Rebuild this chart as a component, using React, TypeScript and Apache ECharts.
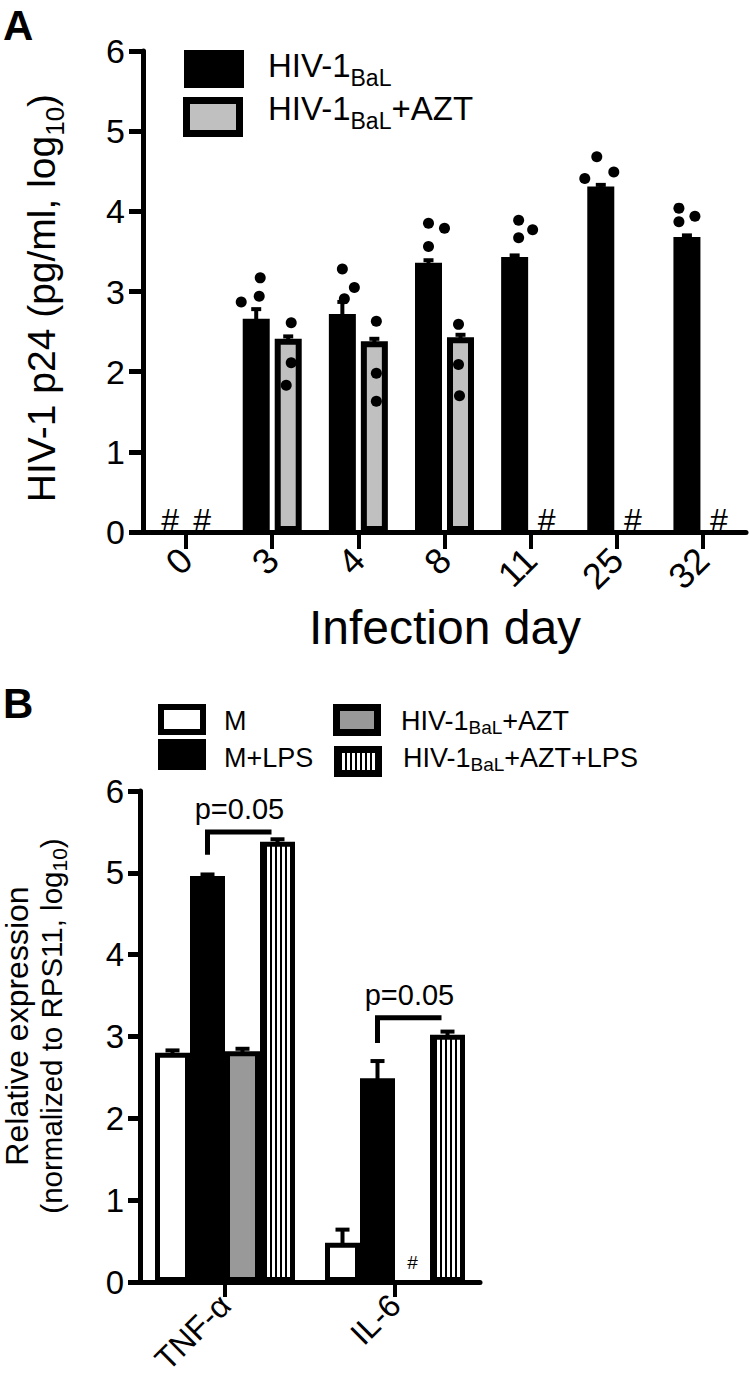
import React, { useEffect, useRef } from 'react';
import * as echarts from 'echarts';

// ---------- Panel A data ----------
const days = ['0', '3', '4', '8', '11', '25', '32'];
const hivBaL = [null, 2.66, 2.72, 3.36, 3.43, 4.31, 3.68];
const hivBaLErrTop = [null, 2.78, 2.87, 3.39, 3.45, 4.33, 3.70];
const hivAzt = [null, 2.41, 2.38, 2.43, null, null, null];
const hivAztErrTop = [null, 2.44, 2.41, 2.46, null, null, null];
const hivBaLDots = [[], [2.87, 3.17, 2.94], [3.28, 3.05, 2.91], [3.85, 3.79, 3.56], [3.89, 3.77, 3.67], [4.68, 4.49, 4.41], [4.04, 3.94, 3.87]];
const hivAztDots = [[], [2.61, 2.11, 1.83], [2.63, 1.98, 1.63], [2.59, 2.09, 1.70], [], [], []];
// horizontal jitter of the donor dots (px)
const hivBaLJitter = [[], [-15, 4, 3], [0, 12, 2], [0, 16, 0], [4, 18, 4], [-4, 13, -16], [-8, 8, -8]];
const hivAztJitter = [[], [3, 3, -2], [2, 2, 2], [-2, -2, -1], [], [], []];
const yTicksA = [0, 6, 1];

// ---------- Panel B data ----------
const genes = ['TNF-α', 'IL-6'];
const mVals = [2.80, 0.48];
const mErrTop = [2.83, 0.64];
const mLps = [4.96, 2.49];
const mLpsErrTop = [4.98, 2.70];
const aztVals = [2.82, null];
const aztErrTop = [2.85, null];
const aztLps = [5.38, 3.02];
const aztLpsErrTop = [5.41, 3.06];
const pTexts = ['p=0.05', 'p=0.05'];
const bracketLevel = [5.50, 3.23];
const bracketFoot = [5.22, 2.92];

const FONT = '"Liberation Sans", Arial, Helvetica, sans-serif';

function makeStripe() {
  const c = document.createElement('canvas');
  c.width = 5;
  c.height = 10;
  const ctx = c.getContext('2d')!;
  ctx.fillStyle = '#fff';
  ctx.fillRect(0, 0, 5, 10);
  ctx.fillStyle = '#000';
  ctx.fillRect(0, 0, 2, 10);
  return { image: c, repeat: 'repeat', imageWidth: 5, imageHeight: 10 } as any;
}

export default function App() {
  const ref = useRef<HTMLDivElement>(null);
  useEffect(() => {
    document.body.style.margin = '0';
    const chart = echarts.init(ref.current!, undefined, { renderer: 'svg' });
    const stripe = makeStripe();

    const barData = (vals: (number | null)[], hashSize: number, hashDist: number) =>
      vals.map((v) =>
        v == null
          ? {
              value: 0,
              itemStyle: { borderWidth: 0 },
              label: { show: true, formatter: '#', position: 'top', distance: hashDist, fontSize: hashSize, color: '#000', fontFamily: FONT },
            }
          : v
      );

    const errSeries = (grid: number, means: (number | null)[], tops: (number | null)[], offset: number, capW: number) => ({
      type: 'custom',
      xAxisIndex: grid,
      yAxisIndex: grid,
      silent: true,
      z: 5,
      data: means.map((m, i) => (m == null ? null : [i, m, tops[i]])).filter((d) => d != null),
      renderItem: (params: any, api: any) => {
        const base = api.coord([api.value(0), api.value(1)]);
        const top = api.coord([api.value(0), api.value(2)]);
        const x = base[0] + offset;
        return {
          type: 'group',
          children: [
            { type: 'line', shape: { x1: x, y1: base[1] + 2, x2: x, y2: top[1] }, style: { stroke: '#000', lineWidth: 4 } },
            { type: 'line', shape: { x1: x - capW / 2, y1: top[1], x2: x + capW / 2, y2: top[1] }, style: { stroke: '#000', lineWidth: 4 } },
          ],
        };
      },
    });

    const dotSeries = (dots: number[][], jitter: number[][], offset: number) => ({
      type: 'scatter',
      xAxisIndex: 0,
      yAxisIndex: 0,
      symbol: 'circle',
      symbolSize: 11,
      z: 6,
      silent: true,
      itemStyle: { color: '#000', opacity: 1 },
      data: dots.flatMap((arr, i) => arr.map((v, k) => ({ value: [i, v], symbolOffset: [offset + jitter[i][k], 0] }))),
    });

    const axisCommon = {
      axisLine: { show: true, onZero: false, lineStyle: { color: '#000', width: 5 } },
      splitLine: { show: false },
    };

    const subRich = (main: number, sub: number, pad: number) => ({
      n: { fontSize: main, fontFamily: FONT, color: '#000', verticalAlign: 'top' },
      s: { fontSize: sub, fontFamily: FONT, color: '#000', verticalAlign: 'top', padding: [pad, 0, 0, 0] },
    });

    const option: any = {
      animation: false,
      backgroundColor: '#fff',
      textStyle: { fontFamily: FONT, color: '#000' },
      grid: [
        { left: 143, top: 51, width: 603, height: 481 },
        { left: 140, top: 791, width: 340, height: 491 },
      ],
      xAxis: [
        {
          gridIndex: 0,
          type: 'category',
          data: days,
          ...axisCommon,
          axisTick: { show: true, alignWithLabel: true, length: 17, lineStyle: { color: '#000', width: 4 } },
          axisLabel: { rotate: 45, fontSize: 36, margin: 22, color: '#000', fontFamily: FONT },
        },
        {
          gridIndex: 1,
          type: 'category',
          data: genes,
          ...axisCommon,
          axisTick: { show: true, alignWithLabel: true, length: 15, lineStyle: { color: '#000', width: 4 } },
          axisLabel: { rotate: 45, fontSize: 32, margin: 18, color: '#000', fontFamily: FONT },
        },
      ],
      yAxis: [
        {
          gridIndex: 0,
          type: 'value',
          min: yTicksA[0],
          max: yTicksA[1],
          interval: yTicksA[2],
          ...axisCommon,
          axisTick: { show: true, length: 14, lineStyle: { color: '#000', width: 5 } },
          axisLabel: { fontSize: 34, margin: 18, color: '#000', fontFamily: FONT },
        },
        {
          gridIndex: 1,
          type: 'value',
          min: 0,
          max: 6,
          interval: 1,
          ...axisCommon,
          axisTick: { show: true, length: 12, lineStyle: { color: '#000', width: 5 } },
          axisLabel: { fontSize: 33, margin: 16, color: '#000', fontFamily: FONT },
        },
      ],
      series: [
        {
          name: 'HIV-1BaL',
          type: 'bar',
          xAxisIndex: 0,
          yAxisIndex: 0,
          barWidth: 27,
          barGap: '18.5%',
          itemStyle: { color: '#000', borderColor: '#000', borderWidth: 6 },
          data: barData(hivBaL, 32, -4),
        },
        {
          name: 'HIV-1BaL+AZT',
          type: 'bar',
          xAxisIndex: 0,
          yAxisIndex: 0,
          barWidth: 27,
          barGap: '18.5%',
          itemStyle: { color: '#c0c0c0', borderColor: '#000', borderWidth: 6 },
          data: barData(hivAzt, 32, -4),
        },
        errSeries(0, hivBaL, hivBaLErrTop, -16, 10),
        errSeries(0, hivAzt, hivAztErrTop, 16, 10),
        dotSeries(hivBaLDots, hivBaLJitter, -16),
        dotSeries(hivAztDots, hivAztJitter, 16),
        {
          name: 'M',
          type: 'bar',
          xAxisIndex: 1,
          yAxisIndex: 1,
          barWidth: 35,
          barGap: '0%',
          itemStyle: { color: '#fff', borderColor: '#000', borderWidth: 5 },
          data: barData(mVals, 19, 10),
        },
        {
          name: 'M+LPS',
          type: 'bar',
          xAxisIndex: 1,
          yAxisIndex: 1,
          barWidth: 35,
          barGap: '0%',
          itemStyle: { color: '#000', borderColor: '#000', borderWidth: 5 },
          data: barData(mLps, 19, 10),
        },
        {
          name: 'HIV-1BaL+AZT (B)',
          type: 'bar',
          xAxisIndex: 1,
          yAxisIndex: 1,
          barWidth: 35,
          barGap: '0%',
          itemStyle: { color: '#999999', borderColor: '#000', borderWidth: 5 },
          data: barData(aztVals, 19, 10),
        },
        {
          name: 'HIV-1BaL+AZT+LPS',
          type: 'bar',
          xAxisIndex: 1,
          yAxisIndex: 1,
          barWidth: 35,
          barGap: '0%',
          itemStyle: { color: stripe, borderColor: '#000', borderWidth: 5 },
          data: barData(aztLps, 19, 10),
        },
        errSeries(1, mVals, mErrTop, -52.5, 14),
        errSeries(1, mLps, mLpsErrTop, -17.5, 14),
        errSeries(1, aztVals, aztErrTop, 17.5, 14),
        errSeries(1, aztLps, aztLpsErrTop, 52.5, 14),
        {
          type: 'custom',
          xAxisIndex: 1,
          yAxisIndex: 1,
          silent: true,
          z: 7,
          data: genes.map((g, i) => [i, bracketLevel[i], bracketFoot[i]]),
          renderItem: (params: any, api: any) => {
            const top = api.coord([api.value(0), api.value(1)]);
            const foot = api.coord([api.value(0), api.value(2)]);
            const x1 = top[0] - 17.5;
            const x2 = top[0] + 52.5 - 6;
            return {
              type: 'group',
              children: [
                {
                  type: 'polyline',
                  shape: { points: [[x1, foot[1]], [x1, top[1]], [x2, top[1]]] },
                  style: { stroke: '#000', lineWidth: 5, fill: 'none' },
                },
                {
                  type: 'text',
                  style: {
                    text: pTexts[params.dataIndex],
                    x: (x1 + x2) / 2,
                    y: top[1] - 8,
                    align: 'center',
                    verticalAlign: 'bottom',
                    fontSize: 29,
                    fontFamily: FONT,
                    fill: '#000',
                  },
                },
              ],
            };
          },
        },
      ],
      graphic: [
        { type: 'text', x: 3, y: 4, style: { text: 'A', fontSize: 42, fontWeight: 'bold', fontFamily: FONT, fill: '#000' } },
        { type: 'text', x: 3, y: 682, style: { text: 'B', fontSize: 42, fontWeight: 'bold', fontFamily: FONT, fill: '#000' } },
        // legend A
        { type: 'rect', shape: { x: 184, y: 50, width: 60, height: 38 }, style: { fill: '#000' } },
        { type: 'rect', shape: { x: 186.5, y: 100.5, width: 53, height: 33 }, style: { fill: '#c0c0c0', stroke: '#000', lineWidth: 7 } },
        { type: 'text', x: 268, y: 49, style: { text: '{n|HIV-1}{s|BaL}', verticalAlign: 'top', rich: subRich(33, 23, 17) } },
        { type: 'text', x: 268, y: 92, style: { text: '{n|HIV-1}{s|BaL}{n|+AZT}', verticalAlign: 'top', rich: subRich(33, 23, 17) } },
        // legend B
        { type: 'rect', shape: { x: 161, y: 707, width: 42, height: 25 }, style: { fill: '#fff', stroke: '#000', lineWidth: 6 } },
        { type: 'rect', shape: { x: 158, y: 739, width: 48, height: 31 }, style: { fill: '#000' } },
        { type: 'rect', shape: { x: 336.5, y: 707.5, width: 41, height: 25 }, style: { fill: '#999999', stroke: '#000', lineWidth: 7 } },
        { type: 'rect', shape: { x: 337.5, y: 749.5, width: 41, height: 24 }, style: { fill: stripe, stroke: '#000', lineWidth: 7 } },
        { type: 'text', x: 224, y: 707, style: { text: '{n|M}', verticalAlign: 'top', rich: subRich(27, 19, 11) } },
        { type: 'text', x: 224, y: 744, style: { text: '{n|M+LPS}', verticalAlign: 'top', rich: subRich(27, 19, 11) } },
        { type: 'text', x: 401, y: 707, style: { text: '{n|HIV-1}{s|BaL}{n|+AZT}', verticalAlign: 'top', rich: subRich(27, 19, 11) } },
        { type: 'text', x: 403, y: 744, style: { text: '{n|HIV-1}{s|BaL}{n|+AZT+LPS}', verticalAlign: 'top', rich: subRich(27, 19, 11) } },
        // axis titles
        {
          type: 'text',
          x: 45,
          y: 298,
          rotation: Math.PI / 2,
          style: { text: '{n|HIV-1 p24 (pg/ml, log}{s|10}{n|)}', align: 'center', verticalAlign: 'middle', rich: subRich(39, 26, 20) },
        },
        { type: 'text', x: 445, y: 627, style: { text: 'Infection day', align: 'center', verticalAlign: 'middle', fontSize: 48, fontFamily: FONT, fill: '#000' } },
        {
          type: 'text',
          x: 36,
          y: 1026,
          rotation: Math.PI / 2,
          style: {
            text: '{a|Relative expression}\n{n|(normalized to RPS11, log}{s|10}{n|)}',
            align: 'center',
            verticalAlign: 'middle',
            rich: {
              a: { fontSize: 32, lineHeight: 35, fontFamily: FONT, color: '#000', verticalAlign: 'top' },
              n: { fontSize: 29.5, lineHeight: 35, fontFamily: FONT, color: '#000', verticalAlign: 'top' },
              s: { fontSize: 21, lineHeight: 35, fontFamily: FONT, color: '#000', verticalAlign: 'top', padding: [13, 0, 0, 0] },
            },
          },
        },
      ],
    };
    chart.setOption(option);
    return () => chart.dispose();
  }, []);
  return <div ref={ref} style={{ width: 749, height: 1380 }} />;
}
